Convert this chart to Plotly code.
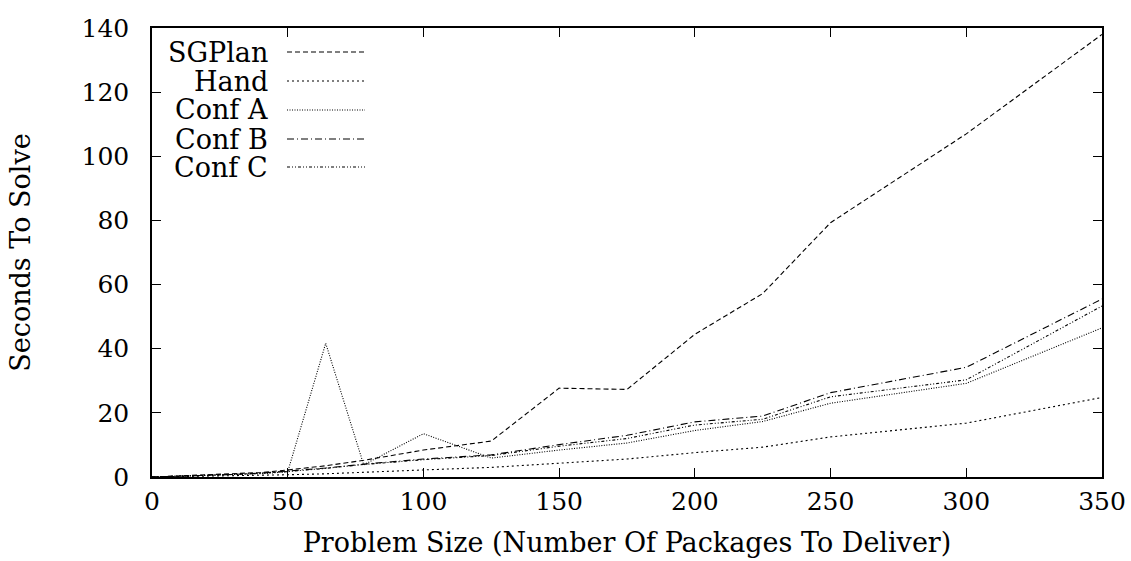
import plotly.graph_objects as go

# Problem sizes (number of packages)
sizes = [0, 10, 20, 30, 40, 50, 64, 78, 100, 125, 150, 175, 200, 225, 250, 300, 350]

sgplan = [0, 0.3, 0.6, 1.0, 1.4, 2.2, 3.5, 5.2, 8.4, 11.2, 27.7, 27.3, 44.5, 57.2, 79.3, 107, 138]
hand   = [0, 0.1, 0.2, 0.4, 0.5, 0.7, 1.0, 1.4, 2.2, 3.0, 4.4, 5.6, 7.6, 9.3, 12.5, 16.8, 24.8]
conf_a = [0, 0.2, 0.4, 0.7, 1.0, 1.6, 41.7, 3.8, 13.5, 5.9, 8.4, 10.6, 14.5, 17.3, 23.0, 29.2, 46.5]
conf_b = [0, 0.2, 0.5, 0.8, 1.2, 1.8, 2.8, 4.0, 5.6, 6.9, 10.1, 13.0, 17.2, 19.0, 26.3, 34.2, 55.5]
conf_c = [0, 0.2, 0.5, 0.8, 1.2, 1.7, 2.7, 3.9, 5.4, 6.7, 9.6, 12.0, 16.2, 18.0, 25.0, 30.3, 53.3]

names = ["SGPlan", "Hand", "Conf A", "Conf B", "Conf C"]
series = [sgplan, hand, conf_a, conf_b, conf_c]
dashes = ["5px,3px", "2px,3px", "1px,1.5px", "7px,3px,1px,3px", "3px,2px,1px,2px,1px,2px"]

x_ticks = [0, 50, 100, 150, 200, 250, 300, 350]
y_ticks = [0, 20, 40, 60, 80, 100, 120, 140]

FONT = "DejaVu Serif"
FS_TICK = 25
FS_TEXT = 27
fig = go.Figure()
for n, s, d in zip(names, series, dashes):
    fig.add_trace(go.Scatter(x=sizes, y=s, mode="lines", name=n,
                             line=dict(color="black", width=1.1, dash=d),
                             showlegend=False))

# gnuplot-style legend: right-aligned labels with line samples on the right
# (positions in paper coords of the plot area: x 152..1102 px, y 28..477 px)
def px_x(p):
    return (p - 152) / 950

def px_y(p):
    return (477 - p) / 449

row_y = [52, 81, 110, 139, 167]
for n, d, ry in zip(names, dashes, row_y):
    yp = px_y(ry)
    fig.add_annotation(x=px_x(270), y=yp, xref="paper", yref="paper",
                       text=n, showarrow=False, xanchor="right", yanchor="middle",
                       font=dict(family=FONT, size=FS_TEXT, color="black"))
    fig.add_shape(type="line", xref="paper", yref="paper",
                  x0=px_x(287), x1=px_x(365), y0=yp, y1=yp,
                  line=dict(color="black", width=1.1, dash=d))

axis_common = dict(showgrid=False, zeroline=False, showline=True, linecolor="black",
                   linewidth=1.5, mirror="ticks", ticks="inside", ticklen=9,
                   tickcolor="black", tickwidth=1.2, automargin=False,
                   tickfont=dict(family=FONT, size=FS_TICK, color="black"))

fig.update_xaxes(range=[0, 350], tickvals=x_ticks, ticktext=[str(v) for v in x_ticks],
                 title=dict(text="Problem Size (Number Of Packages To Deliver)",
                            font=dict(family=FONT, size=FS_TEXT, color="black"), standoff=18),
                 ticklabelstandoff=1, **axis_common)
fig.update_yaxes(range=[0, 140], tickvals=y_ticks, ticktext=[str(v) for v in y_ticks],
                 title=dict(text="Seconds To Solve",
                            font=dict(family=FONT, size=FS_TEXT, color="black"), standoff=43),
                 ticklabelstandoff=16, **axis_common)

fig.update_layout(width=1131, height=561, paper_bgcolor="white", plot_bgcolor="white",
                  font=dict(family=FONT),
                  margin=dict(l=152, r=29, t=28, b=84), showlegend=False)

fig.write_html("out.html")
